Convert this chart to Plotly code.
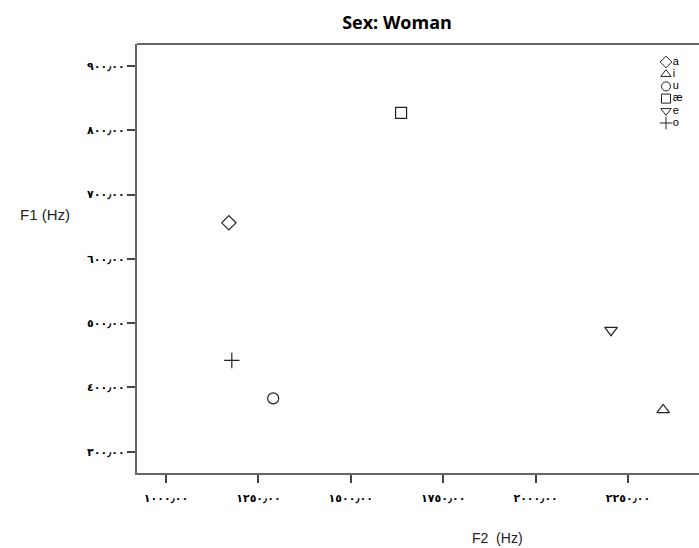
import plotly.graph_objects as go

# Data
vowels = ["a", "i", "u", "æ", "e", "o"]
f2_values = [1170, 2345, 1290, 1636, 2204, 1178]
f1_values = [656, 365, 383, 827, 489, 442]
symbols = ["diamond-open", "triangle-up-open", "circle-open", "square-open", "triangle-down-open", "cross-thin-open"]

x_tickvals = [1000, 1250, 1500, 1750, 2000, 2250]
x_ticktext = ["١٠٠٠٫٠٠", "١٢٥٠٫٠٠", "١٥٠٠٫٠٠", "١٧٥٠٫٠٠", "٢٠٠٠٫٠٠", "٢٢٥٠٫٠٠"]
y_tickvals = [300, 400, 500, 600, 700, 800, 900]
y_ticktext = ["٣٠٠٫٠٠", "٤٠٠٫٠٠", "٥٠٠٫٠٠", "٦٠٠٫٠٠", "٧٠٠٫٠٠", "٨٠٠٫٠٠", "٩٠٠٫٠٠"]

W, H = 699, 548
L, T, B = 137, 44, 473

fig = go.Figure()
for v, x, y, s in zip(vowels, f2_values, f1_values, symbols):
    fig.add_trace(go.Scatter(
        x=[x], y=[y], mode="markers", name=v,
        marker=dict(symbol=s, size=11,
                    color="#222222",
                    line=dict(color="#222222", width=1.2)),
        showlegend=False,
    ))

# legend drawn on an auxiliary axis (0..1 over the plot area)
leg_x = [(666 - L) / (W - L)] * len(vowels)
leg_y = [1 - (62 + i * 12.2 - T) / (B - T) for i in range(len(vowels))]
fig.add_trace(go.Scatter(
    x=leg_x, y=leg_y, xaxis="x2", yaxis="y2", mode="markers+text",
    text=vowels, textposition="middle right",
    textfont=dict(family="Liberation Sans", size=11, color="black"),
    marker=dict(symbol=symbols, size=9, color="#222222", line=dict(color="#222222", width=1)),
    showlegend=False, hoverinfo="skip", cliponaxis=False,
))

# axis titles
fig.add_annotation(xref="paper", yref="paper", x=(18 - L) / (W - L), y=1 - (215 - T) / (B - T),
                   text="F1 (Hz)", showarrow=False, xanchor="left", yanchor="middle",
                   font=dict(family="Liberation Sans", size=15, color="#222222"))
fig.add_annotation(xref="paper", yref="paper", x=(497 - L) / (W - L), y=-(538 - B) / (B - T),
                   text="F2&nbsp;&nbsp;(Hz)", showarrow=False, xanchor="center", yanchor="middle",
                   font=dict(family="Liberation Sans", size=14, color="#222222"))

# top border
fig.add_shape(type="line", xref="paper", yref="paper", x0=0, x1=1, y0=1, y1=1,
              line=dict(color="#666666", width=2))

fig.update_layout(
    width=W, height=H,
    margin=dict(l=L, r=0, t=T, b=H - B),
    plot_bgcolor="white", paper_bgcolor="white",
    title=dict(text="<b>Sex: Woman</b>", x=397 / W, xanchor="center", y=1 - 23 / H, yanchor="middle",
               font=dict(family="Open Sans", size=18, color="black")),
    xaxis=dict(range=[921.5, 2442], tickvals=x_tickvals, ticktext=x_ticktext,
               showgrid=False, zeroline=False, showline=True, linecolor="#666666", linewidth=2,
               ticks="outside", ticklen=8, tickwidth=1.5, tickcolor="#444444",
               tickfont=dict(family="DejaVu Sans", size=11, color="black", weight="bold"),
               ticklabelstandoff=6),
    yaxis=dict(range=[267, 934], tickvals=y_tickvals, ticktext=y_ticktext,
               showgrid=False, zeroline=False, showline=True, linecolor="#666666", linewidth=2,
               ticks="outside", ticklen=8, tickwidth=1.5, tickcolor="#444444",
               tickfont=dict(family="DejaVu Sans", size=11, color="black", weight="bold")),
    xaxis2=dict(overlaying="x", range=[0, 1], visible=False, fixedrange=True),
    yaxis2=dict(overlaying="y", range=[0, 1], visible=False, fixedrange=True),
)

fig.write_html("out.html", post_script="document.body.style.margin='0';",
               config={"displayModeBar": False})
